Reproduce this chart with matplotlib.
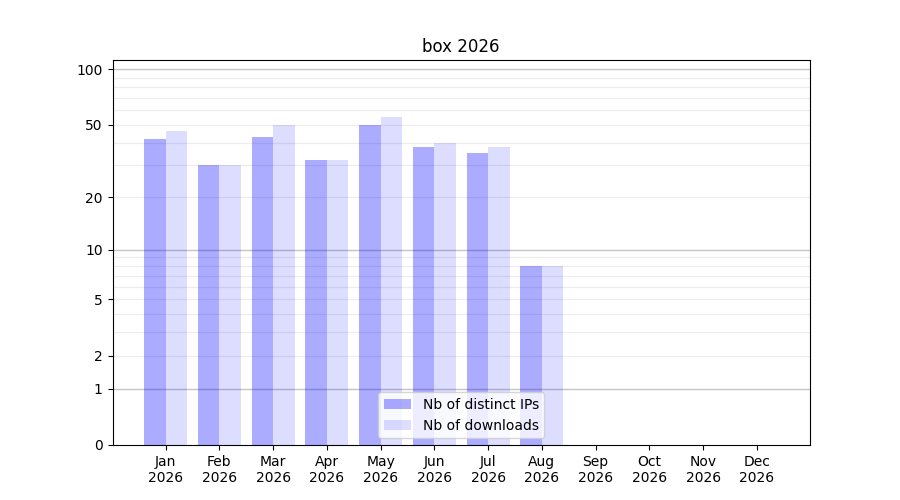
import numpy as np
import matplotlib
matplotlib.use("Agg")
import matplotlib.pyplot as plt
from matplotlib.ticker import FixedLocator, NullLocator, FixedFormatter

months = ["Jan", "Feb", "Mar", "Apr", "May", "Jun", "Jul", "Aug", "Sep", "Oct", "Nov", "Dec"]
year = "2026"
distinct_ips = [42, 30, 43, 32, 50, 38, 35, 8]
downloads = [46, 30, 50, 32, 55, 40, 38, 8]
yticks = [0, 1, 2, 5, 10, 20, 50, 100]

fig, ax = plt.subplots(figsize=(9, 5), dpi=100)

def fwd(x):
    x = np.asarray(x, dtype=float)
    return np.log10(1 + np.maximum(x, -0.999999))

def inv(y):
    return 10 ** np.asarray(y, dtype=float) - 1

ax.set_yscale('function', functions=(fwd, inv))

# grid
for v in [1, 10, 100]:
    ax.axhline(v, color='#c4c4c4', linewidth=1, zorder=0)
for dec in [1, 10]:
    for m in range(2, 10):
        ax.axhline(dec * m, color='#ececec', linewidth=0.8, zorder=0)

x = np.arange(len(distinct_ips))
ax.bar(x, distinct_ips, width=-0.4, align='edge', color='blue', alpha=0.33,
       label='Nb of distinct IPs', zorder=2)
ax.bar(x, downloads, width=0.4, align='edge', color='blue', alpha=0.135,
       label='Nb of downloads', zorder=2)

ax.set_ylim(0, 112)
ax.yaxis.set_major_locator(FixedLocator(yticks))
ax.yaxis.set_major_formatter(FixedFormatter([str(t) for t in yticks]))
ax.yaxis.set_minor_locator(NullLocator())

ax.set_xticks(np.arange(len(months)))
ax.set_xticklabels([f"{m}\n{year}" for m in months])
ax.set_xlim(-0.99, 11.99)

ax.set_title("box 2026")
ax.legend(loc='lower center')

fig.savefig("out.png", dpi=100)
